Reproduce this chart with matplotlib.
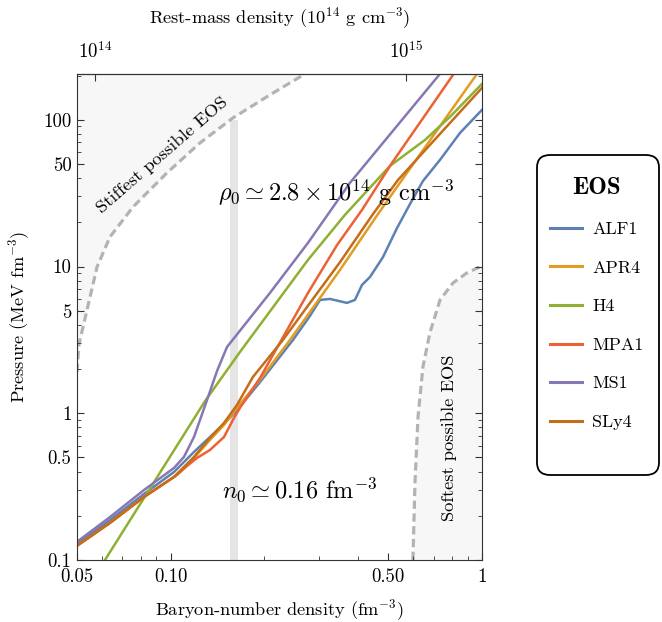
import matplotlib
matplotlib.use('Agg')
import matplotlib.pyplot as plt
from matplotlib.ticker import FixedLocator, FixedFormatter, NullLocator
from matplotlib.patches import FancyBboxPatch

plt.rcParams['font.family'] = ['cmr10', 'DejaVu Serif']
plt.rcParams['mathtext.fontset'] = 'cm'
plt.rcParams['axes.unicode_minus'] = False
plt.rcParams['axes.formatter.use_mathtext'] = True

# ---- данные: n (fm^-3), P (MeV fm^-3)
eos_names = ['ALF1', 'APR4', 'H4', 'MPA1', 'MS1', 'SLy4']
eos_colors = ['#5E81B5', '#E19C24', '#8FB032', '#EB6235', '#8778B3', '#C56E1A']

n_alf1 = [0.05, 0.0638, 0.0821, 0.1025, 0.1188, 0.1337, 0.1483, 0.1633, 0.1936, 0.2471, 0.2802, 0.3017,
          0.3249, 0.3683, 0.3908, 0.4116, 0.4368, 0.4808, 0.5334, 0.5872, 0.6464, 0.7330, 0.8501, 1.0]
p_alf1 = [0.129, 0.187, 0.282, 0.398, 0.545, 0.689, 0.846, 1.05, 1.63, 3.16, 4.61, 5.92,
          6.01, 5.65, 5.92, 7.49, 8.49, 11.6, 18.3, 26.7, 38.3, 53.3, 81.4, 116.8]

n_apr4 = [0.05, 0.0638, 0.0821, 0.1025, 0.1188, 0.1337, 0.1483, 0.1633, 0.1936, 0.2416, 0.2802, 0.3498,
          0.4634, 0.5533, 0.9636]
p_apr4 = [0.125, 0.179, 0.269, 0.368, 0.496, 0.658, 0.832, 1.09, 1.69, 3.16, 4.90, 9.48,
          22.8, 38.9, 205.5]

n_h4 = [0.0615, 0.1289, 0.1670, 0.2761, 0.3630, 0.5063, 0.6561, 0.7893, 1.0]
p_h4 = [0.100, 1.21, 2.62, 11.1, 22.5, 48.5, 72.9, 104.7, 175.7]

n_mpa1 = [0.05, 0.0638, 0.0821, 0.1048, 0.1128, 0.1215, 0.1337, 0.1483, 0.1597, 0.1670, 0.1936, 0.2761,
          0.3422, 0.4116, 0.5138, 0.8068]
p_mpa1 = [0.125, 0.179, 0.269, 0.380, 0.437, 0.496, 0.562, 0.689, 0.929, 1.09, 1.74, 6.61,
          14.0, 24.3, 50.8, 202]

n_ms1 = [0.05, 0.0638, 0.0821, 0.1025, 0.1103, 0.1188, 0.1242, 0.1308, 0.1410, 0.1517, 0.2084, 0.2761,
         0.3767, 0.7330]
p_ms1 = [0.133, 0.196, 0.300, 0.424, 0.504, 0.689, 0.900, 1.23, 1.95, 2.83, 6.61, 14.5,
         37.2, 205.5]

n_sly4 = [0.05, 0.0638, 0.0821, 0.1025, 0.1188, 0.1337, 0.1483, 0.1633, 0.1838, 0.2294, 0.2802, 0.3498,
          0.4466, 0.5372, 1.0]
p_sly4 = [0.125, 0.179, 0.269, 0.368, 0.504, 0.679, 0.859, 1.14, 1.77, 3.16, 5.65, 10.7,
          22.8, 38.9, 165]

eos_n = [n_alf1, n_apr4, n_h4, n_mpa1, n_ms1, n_sly4]
eos_p = [p_alf1, p_apr4, p_h4, p_mpa1, p_ms1, p_sly4]

# предельные уравнения состояния
n_stiff = [0.0500, 0.0507, 0.0523, 0.0580, 0.0638, 0.0757, 0.0973, 0.1242, 0.1585, 0.2084, 0.2700]
p_stiff = [1.91, 2.92, 3.88, 9.94, 15.9, 25.5, 43.5, 69.6, 103, 147.8, 205.5]

n_soft = [0.600, 0.609, 0.623, 0.646, 0.680, 0.733, 0.807, 0.894, 1.0]
p_soft = [0.100, 0.335, 0.944, 2.07, 3.53, 5.92, 7.73, 9.04, 10.1]

n0_band = [0.155, 0.164]   # полоса насыщения
n0_band_top = 100
rho_per_n = 17.5           # rho (10^14 g cm^-3) на 1 fm^-3

x_ticks = [0.05, 0.1, 0.5, 1]
x_labels = ['0.05', '0.10', '0.50', '1']
y_ticks = [0.1, 0.5, 1, 5, 10, 50, 100]
y_labels = ['0.1', '0.5', '1', '5', '10', '50', '100']
top_ticks = [1, 10]
top_labels = ['$10^{14}$', '$10^{15}$']

# ---- график
fig = plt.figure(figsize=(6.62, 6.22), dpi=100)
ax = fig.add_axes([0.1163, 0.0997, 0.6118, 0.7813])
ax.set_xscale('log')
ax.set_yscale('log')
ax.set_xlim(0.05, 1)
ax.set_ylim(0.1, 205)

dash_col = '#b3b3b3'
fill_col = '#f7f7f7'
ax.fill_between(n_stiff, p_stiff, 1000, color=fill_col, lw=0, zorder=0)
ax.fill_betweenx(p_soft, n_soft, 1.0, color=fill_col, lw=0, zorder=0)
ax.fill_between(n0_band, 0.1, n0_band_top, color='#e5e5e5', lw=0, zorder=0.5)
ax.plot(n_stiff, p_stiff, color=dash_col, lw=2.3, dashes=(2.6, 1.4), zorder=1)
ax.plot(n_soft, p_soft, color=dash_col, lw=2.3, dashes=(2.6, 1.4), zorder=1)

for nn, pp, name, col in zip(eos_n, eos_p, eos_names, eos_colors):
    ax.plot(nn, pp, color=col, lw=1.8, label=name, zorder=2)

ax.text(0.0938, 57.6, 'Stiffest possible EOS', rotation=41, ha='center', va='center', fontsize=13.3)
ax.text(0.783, 0.679, 'Softest possible EOS', rotation=90, ha='center', va='center', fontsize=13.3)
ax.text(0.1419, 31.8, r'$\rho_0 \simeq 2.8\times10^{14}$ g cm$^{-3}$', ha='left', va='center', fontsize=17.5)
ax.text(0.1462, 0.300, r'$n_0 \simeq 0.16$ fm$^{-3}$', ha='left', va='center', fontsize=17.5)

ax.xaxis.set_major_locator(FixedLocator(x_ticks))
ax.xaxis.set_major_formatter(FixedFormatter(x_labels))
ax.yaxis.set_major_locator(FixedLocator(y_ticks))
ax.yaxis.set_major_formatter(FixedFormatter(y_labels))
ax.tick_params(which='both', direction='in', top=False, right=True, color='#333333')
ax.tick_params(which='major', length=5, labelsize=13.5, pad=6)
ax.tick_params(which='minor', length=3)
ax.tick_params(axis='y', pad=4)
for sp in ax.spines.values():
    sp.set_color('#333333')

ax.set_xlabel('Baryon-number density (fm$^{-3}$)', fontsize=13.2, labelpad=8)
ax.set_ylabel('Pressure (MeV fm$^{-3}$)', fontsize=13.2, labelpad=8)

sec = ax.secondary_xaxis('top', functions=(lambda n: n * rho_per_n, lambda r: r / rho_per_n))
sec.xaxis.set_major_locator(FixedLocator(top_ticks))
sec.xaxis.set_major_formatter(FixedFormatter(top_labels))
sec.xaxis.set_minor_locator(NullLocator())
sec.tick_params(direction='in', length=5, labelsize=13.5, pad=9, color='#333333')
sec.set_xlabel('Rest-mass density ($10^{14}$ g cm$^{-3}$)', fontsize=13.2, labelpad=12)

# рамка легенды отдельно, со скруглёнными углами
frame = FancyBboxPatch((537 / 662, 1 - 475 / 622), 122 / 662, 320 / 622,
                       boxstyle='round,pad=0,rounding_size=0.02', transform=fig.transFigure,
                       facecolor='none', edgecolor='black', lw=1.3, zorder=5)
fig.patches.append(frame)

leg = ax.legend(loc='upper left', bbox_to_anchor=(0.7975, 0.751), bbox_transform=fig.transFigure,
                title='EOS', fontsize=13, frameon=False,
                labelspacing=1.27, handlelength=1.8, handletextpad=0.55, borderpad=1.2,
                borderaxespad=0)
leg.get_title().set_fontfamily('cmb10')
leg.get_title().set_fontsize(18)
for ln in leg.get_lines():
    ln.set_linewidth(2.2)

fig.savefig('out.png', dpi=100)
